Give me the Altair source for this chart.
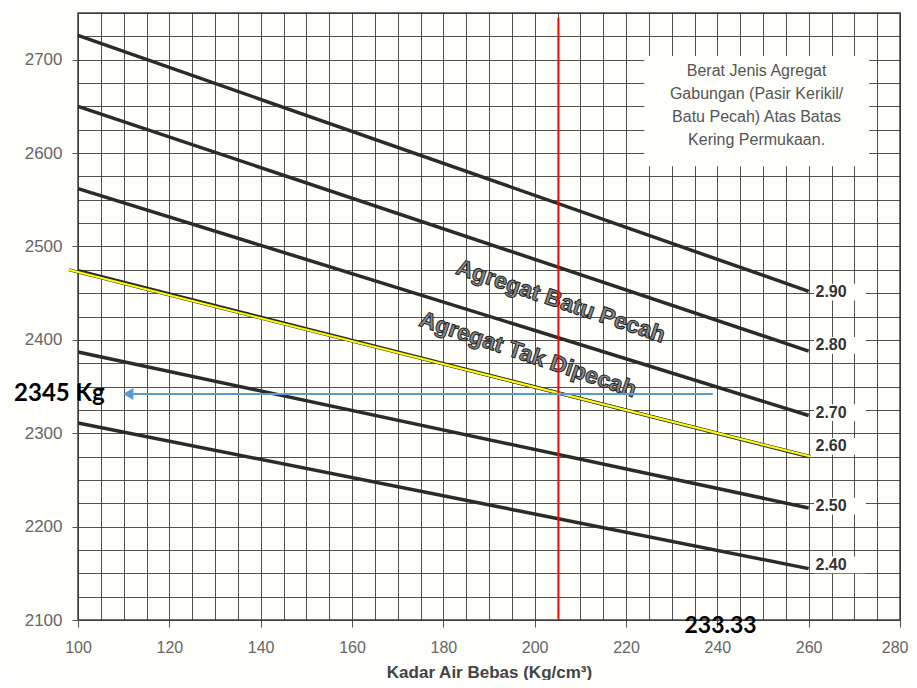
import altair as alt
import pandas as pd

# ---- data ----
sg_labels = ["2.90", "2.80", "2.70", "2.60", "2.50", "2.40"]
line_x_start = [100, 100, 100, 100, 100, 100]
line_x_end = [260, 260, 260, 260, 260, 260]
line_y_start = [2726, 2650, 2562, 2474, 2387, 2311]
line_y_end = [2452, 2388, 2319, 2275, 2220, 2155]
label_y = [2451, 2394, 2322, 2286, 2222, 2159]
label_x = [261.5, 261.5, 261.5, 261.5, 261.5, 261.5]

yellow_x = [98, 260.4]
yellow_y = [2475, 2275]

red_x = [205.2]
red_y = [2100]
red_y2 = [2745]

blue_x = [239]
blue_x2 = [111]
blue_y = [2342]

box_lines = ["Berat Jenis Agregat", "Gabungan (Pasir Kerikil/", "Batu Pecah) Atas Batas", "Kering Permukaan."]
box_line_y = [2688, 2663, 2639, 2614]
box_x = [248.6]
box_rect = {"x": [224], "x2": [273.3], "y": [2586], "y2": [2704]}

curve_names = ["Agregat Batu Pecah", "Agregat Tak Dipecah"]
curve_name_x = [205.7, 198.5]
curve_name_y = [2441, 2384]

ann_left = ["2345 Kg"]
ann_left_x = [86.0]
ann_left_y = [2342]
ann_center = ["233.33"]
ann_center_x = [240.7]
ann_center_y = [2094]

x_grid = list(range(100, 281, 5))
y_grid = list(range(2100, 2751, 25))

BG = "#fefefb"
xs = alt.Scale(domain=[100, 280], nice=False, zero=False)
ys = alt.Scale(domain=[2100, 2750], nice=False, zero=False)

x_axis = alt.Axis(
    values=x_grid,
    labelExpr="datum.value % 20 === 0 ? datum.label : ''",
    grid=True, gridColor="#333", gridOpacity=0.85, gridWidth=1,
    tickOpacity={"condition": {"test": "datum.value % 20 === 0", "value": 1}, "value": 0},
    tickSize=7, tickColor="#555", labelPadding=12, labelOverlap=False, labelFlush=False,
    labelAlign={"condition": {"test": "datum.value === 280", "value": "right"}, "value": "center"},
    labelOffset={"condition": {"test": "datum.value === 280", "value": 8}, "value": 0},
    labelColor="#666", labelFontSize=16, labelFont="Liberation Sans",
    domain=False, title="Kadar Air Bebas (Kg/cm³)", titleFontSize=17,
    titleFont="Liberation Sans", titleFontWeight="bold", titleColor="#444", titlePadding=9,
)
y_axis = alt.Axis(
    values=y_grid,
    labelExpr="datum.value % 100 === 0 ? datum.label : ''",
    format="d",
    grid=True, gridColor="#333", gridOpacity=0.85, gridWidth=1,
    tickOpacity={"condition": {"test": "datum.value % 100 === 0", "value": 1}, "value": 0},
    tickSize=6, tickColor="#555", labelPadding=10, labelOverlap=False, labelFlush=False,
    labelColor="#666", labelFontSize=17, labelFont="Liberation Sans",
    domain=False, title=None,
)

X = alt.X("x:Q", scale=xs, axis=x_axis)
Y = alt.Y("y:Q", scale=ys, axis=y_axis)

# white boxes behind the legend text and curve labels
rects = pd.DataFrame({
    "x": box_rect["x"] + [261.2] * 6,
    "x2": box_rect["x2"] + [272.5] * 6,
    "y": box_rect["y"] + [v - 9 for v in label_y],
    "y2": box_rect["y2"] + [v + 9 for v in label_y],
})
rect_layer = alt.Chart(rects).mark_rect(color=BG).encode(x=X, x2="x2:Q", y=Y, y2="y2:Q")

lines = pd.DataFrame({"sg": sg_labels, "x": line_x_start, "x2": line_x_end,
                      "y": line_y_start, "y2": line_y_end})
line_layer = alt.Chart(lines).mark_rule(color="#2b2b2b", strokeWidth=3.5).encode(
    x=X, x2="x2:Q", y=Y, y2="y2:Q")

yel = pd.DataFrame({"x": [yellow_x[0]], "x2": [yellow_x[1]], "y": [yellow_y[0]], "y2": [yellow_y[1]]})
yel_under = alt.Chart(yel).mark_rule(color="#333", strokeWidth=3).encode(
    x=X, x2="x2:Q", y=Y, y2="y2:Q")
yel_layer = alt.Chart(yel).mark_rule(color="#ffff00", strokeWidth=2).encode(
    x=X, x2="x2:Q", y=Y, y2="y2:Q")

labels = pd.DataFrame({"t": sg_labels, "x": label_x, "y": label_y})
label_layer = alt.Chart(labels).mark_text(
    align="left", baseline="middle", font="Liberation Sans", fontWeight="bold",
    fontSize=16, color="#333"
).encode(x=X, y=Y, text="t:N")

box_df = pd.DataFrame({"t": box_lines, "x": box_x * 4, "y": box_line_y})
box_text = alt.Chart(box_df).mark_text(
    align="center", baseline="middle", font="Liberation Sans", fontSize=16, color="#555"
).encode(x=X, y=Y, text="t:N")

curve_df = pd.DataFrame({"t": curve_names, "x": curve_name_x, "y": curve_name_y})
curve_text = alt.Chart(curve_df).mark_text(
    align="center", baseline="middle", font="Liberation Sans", fontWeight="bold",
    fontSize=23, color="#8a8a8a", stroke="#222", strokeWidth=1, angle=18.5
).encode(x=X, y=Y, text="t:N")

red_df = pd.DataFrame({"x": red_x, "y": red_y, "y2": red_y2})
red_layer = alt.Chart(red_df).mark_rule(color="#ff0000", strokeWidth=2).encode(
    x=X, y=Y, y2="y2:Q")

blue_df = pd.DataFrame({"x": blue_x, "x2": blue_x2, "y": blue_y})
blue_layer = alt.Chart(blue_df).mark_rule(color="#5b9bd5", strokeWidth=2).encode(
    x=X, x2="x2:Q", y=Y)
arrow_df = pd.DataFrame({"x": blue_x2, "y": blue_y})
arrow_layer = alt.Chart(arrow_df).mark_point(
    shape="triangle-left", filled=True, color="#5b9bd5", size=140, opacity=1
).encode(x=X, y=Y)

annL_df = pd.DataFrame({"t": ann_left, "x": ann_left_x, "y": ann_left_y})
annL_layer = alt.Chart(annL_df).mark_text(
    font="Lato", fontWeight="bold", fontSize=24, color="#000", baseline="middle", align="left"
).encode(x=X, y=Y, text="t:N")
annC_df = pd.DataFrame({"t": ann_center, "x": ann_center_x, "y": ann_center_y})
annC_layer = alt.Chart(annC_df).mark_text(
    font="Lato", fontWeight="bold", fontSize=23, color="#000", baseline="middle", align="center"
).encode(x=X, y=Y, text="t:N")

chart = alt.layer(
    rect_layer, line_layer, yel_under, yel_layer, label_layer, box_text, curve_text,
    red_layer, blue_layer, arrow_layer, annL_layer, annC_layer
).properties(
    width=822, height=607,
    autosize=alt.AutoSizeParams(type="none"),
    padding={"left": 70, "top": 5, "right": 9, "bottom": 60},
    background=BG,
).configure_view(stroke="#444", strokeWidth=1.5)

chart.save("out.html", embed_options={"renderer": "svg", "actions": False})
